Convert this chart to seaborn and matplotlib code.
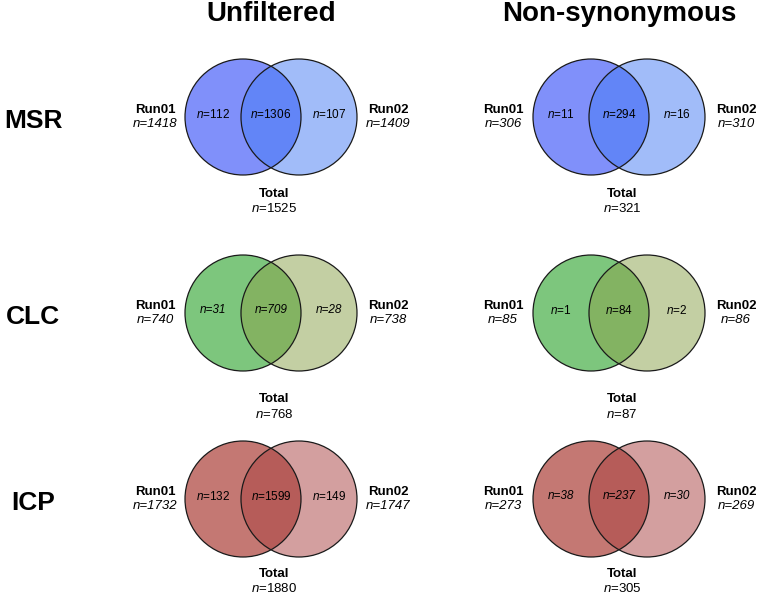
import matplotlib
matplotlib.use("Agg")
import matplotlib.pyplot as plt
from matplotlib.patches import Circle
import seaborn as sns

# counts: rows = sample, cols = filter
rows = ["MSR", "CLC", "ICP"]
cols = ["Unfiltered", "Non-synonymous"]
run01_total = [[1418, 306], [740, 85], [1732, 273]]
run02_total = [[1409, 310], [738, 86], [1747, 269]]
only01 = [[112, 11], [31, 1], [132, 38]]
shared = [[1306, 294], [709, 84], [1599, 237]]
only02 = [[107, 16], [28, 2], [149, 30]]
union = [[1525, 321], [768, 87], [1880, 305]]
italic_inner = [[False, False], [True, False], [False, True]]

# (left circle, right circle drawn with alpha on top)
row_colors = [("#8090fa", "#457bf5"), ("#7dc67d", "#89a149"), ("#c47873", "#a94141")]

sns.set_theme(style="white")
plt.rcParams["font.family"] = ["Liberation Sans", "DejaVu Sans"]
plt.rcParams["text.color"] = "black"
plt.rcParams["mathtext.fontset"] = "custom"
plt.rcParams["mathtext.it"] = "Liberation Sans:italic"
plt.rcParams["mathtext.rm"] = "Liberation Sans"

fig = plt.figure(figsize=(7.6, 5.94), dpi=100)
ax = fig.add_axes([0, 0, 1, 1])
ax.set_xlim(0, 760)
ax.set_ylim(594, 0)
ax.set_aspect("equal")
ax.axis("off")

col_x = [271, 619]
row_y = [117, 313, 499]
total_y = [194, 399, 574]
r, d = 58, 28

for j, name in enumerate(cols):
    ax.text(col_x[j], 14, name, ha="center", va="center", fontsize=20, fontweight="bold")
for i, name in enumerate(rows):
    ax.text(33, row_y[i] + 4, name, ha="center", va="center", fontsize=19, fontweight="bold")

for i in range(3):
    c_left, c_right = row_colors[i]
    for j in range(2):
        cx, cy = col_x[j], row_y[i]
        ax.add_patch(Circle((cx - d, cy), r, facecolor=c_left, edgecolor="none"))
        ax.add_patch(Circle((cx + d, cy), r, facecolor=c_right, alpha=0.5, edgecolor="none"))
        for sx in (-d, d):
            ax.add_patch(Circle((cx + sx, cy), r, facecolor="none", edgecolor="#1a1a1a", lw=0.9))

        # region counts
        style = "italic" if italic_inner[i][j] else "normal"
        for off, val in [(-d - 30, only01[i][j]), (0, shared[i][j]), (d + 30, only02[i][j])]:
            lab = f"n={val}" if italic_inner[i][j] else f"$n$={val}"
            ax.text(cx + off, cy - 3, lab, ha="center", va="center", fontsize=8.5, style=style)

        # set labels
        lx, rx = cx - d - r - 30, cx + d + r + 31
        ax.text(lx, cy - 7, "Run01", ha="center", va="center", fontsize=9.5, fontweight="bold")
        ax.text(lx, cy + 7, f"n={run01_total[i][j]}", ha="center", va="center", fontsize=9.5, style="italic")
        ax.text(rx, cy - 7, "Run02", ha="center", va="center", fontsize=9.5, fontweight="bold")
        ax.text(rx, cy + 7, f"n={run02_total[i][j]}", ha="center", va="center", fontsize=9.5, style="italic")

        ty = total_y[i]
        ax.text(cx + 3, ty, "Total", ha="center", va="center", fontsize=9.5, fontweight="bold")
        ax.text(cx + 3, ty + 15, f"$n$={union[i][j]}", ha="center", va="center", fontsize=9.5)

fig.savefig("out.png", dpi=100)
